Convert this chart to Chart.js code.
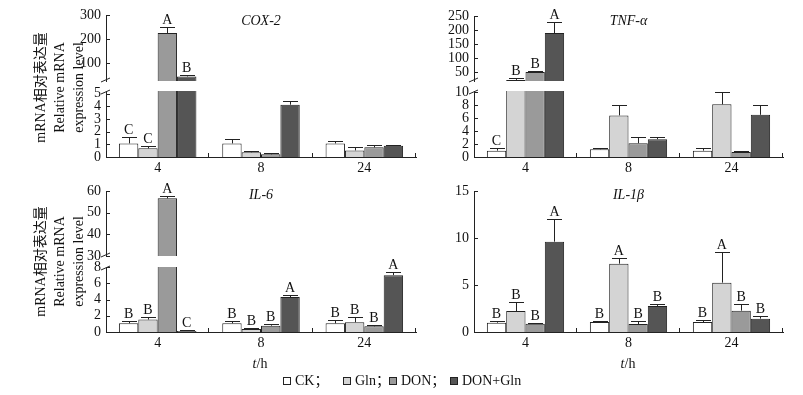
<!DOCTYPE html>
<html>
<head>
<meta charset="utf-8">
<script src="https://cdn.jsdelivr.net/npm/chart.js@4.4.1/dist/chart.umd.min.js"></script>
<style>
body { margin: 0; background: #fff; }
#wrap { position: relative; width: 803px; height: 395px; font-family: "Liberation Serif", "Noto Sans CJK SC", serif; color: #111; }
#wrap canvas { position: absolute; left: 0; top: 0; }
.ytitle { position: absolute; width: 140px; height: 57px; text-align: center; font-size: 14px; line-height: 19px; transform: rotate(-90deg); white-space: nowrap; }
.xtitle { position: absolute; font-size: 14px; line-height: 16px; transform: translateX(-50%); }
.leg { position: absolute; top: 373px; height: 16px; font-size: 14px; line-height: 16px; white-space: nowrap; display: flex; align-items: center; }
.leg i { display: block; width: 6px; height: 6px; border: 1px solid #222; margin-right: 4px; flex: none; }
</style>
</head>
<body>
<div id="wrap">
  <canvas id="coxUp" width="803" height="395"></canvas>
  <canvas id="coxLo" width="803" height="395"></canvas>
  <canvas id="tnfUp" width="803" height="395"></canvas>
  <canvas id="tnfLo" width="803" height="395"></canvas>
  <canvas id="il6Up" width="803" height="395"></canvas>
  <canvas id="il6Lo" width="803" height="395"></canvas>
  <canvas id="il1" width="803" height="395"></canvas>

  <div class="ytitle" style="left:-11px;top:59px;">mRNA相对表达量<br>Relative mRNA<br>expression level</div>
  <div class="ytitle" style="left:-11px;top:233px;">mRNA相对表达量<br>Relative mRNA<br>expression level</div>
  <div class="xtitle" style="left:260px;top:356px;"><i>t</i>/h</div>
  <div class="xtitle" style="left:628px;top:356px;"><i>t</i>/h</div>
  <div class="leg" style="left:283px;"><i style="background:#ffffff"></i><span>CK；</span></div>
  <div class="leg" style="left:343px;"><i style="background:#d4d4d4"></i><span>Gln；</span></div>
  <div class="leg" style="left:389px;"><i style="background:#9a9a9a"></i><span>DON；</span></div>
  <div class="leg" style="left:450px;"><i style="background:#555555"></i><span>DON+Gln</span></div>
</div>

<script>
// sampling times (h) and treatment groups
const times = ["4", "8", "24"];
const groupNames = ["CK", "Gln", "DON", "DON+Gln"];
const fills = ["#ffffff", "#d4d4d4", "#9a9a9a", "#555555"];

// COX-2
const coxCK = [1.07, 1.07, 1.07];
const coxGln = [0.68, 0.37, 0.52];
const coxDON = [225, 0.21, 0.76];
const coxDonGln = [44, 4.12, 0.88];
const coxCKErr = [0.47, 0.31, 0.23];
const coxGlnErr = [0.18, 0.12, 0.24];
const coxDONErr = [25, 0.08, 0.2];
const coxDonGlnErr = [4, 0.26, 0.04];
const coxLetters = [["C", "", ""], ["C", "", ""], ["A", "", ""], ["B", "", ""]];

// TNF-alpha
const tnfCK = [0.98, 1.19, 0.98];
const tnfGln = [22, 6.4, 8.1];
const tnfDON = [50, 2.12, 0.77];
const tnfDonGln = [189, 2.74, 6.49];
const tnfCKErr = [0.46, 0.16, 0.36];
const tnfGlnErr = [8, 1.54, 1.9];
const tnfDONErr = [4.5, 0.88, 0.11];
const tnfDonGlnErr = [38, 0.35, 1.45];
const tnfLetters = [["C", "", ""], ["B", "", ""], ["B", "", ""], ["A", "", ""]];

// IL-6
const il6CK = [1.07, 1.07, 1.07];
const il6Gln = [1.53, 0.37, 1.2];
const il6DON = [56.6, 0.78, 0.7];
const il6DonGln = [0.12, 4.3, 7.0];
const il6CKErr = [0.25, 0.33, 0.41];
const il6GlnErr = [0.28, 0.17, 0.66];
const il6DONErr = [0.9, 0.21, 0.12];
const il6DonGlnErr = [0.13, 0.3, 0.4];
const il6Letters = [["B", "B", "B"], ["B", "B", "B"], ["A", "B", "B"], ["C", "A", "A"]];

// IL-1beta
const il1CK = [0.99, 1.06, 1.06];
const il1Gln = [2.23, 7.27, 5.25];
const il1DON = [0.89, 0.85, 2.27];
const il1DonGln = [9.61, 2.77, 1.42];
const il1CKErr = [0.18, 0.14, 0.25];
const il1GlnErr = [0.96, 0.57, 3.3];
const il1DONErr = [0.1, 0.35, 0.74];
const il1DonGlnErr = [2.41, 0.24, 0.25];
const il1Letters = [["B", "B", "B"], ["B", "A", "A"], ["B", "B", "B"], ["A", "B", "B"]];

// y tick labels of each axis segment
const coxUpTicks = [100, 200, 300];
const coxLoTicks = [0, 1, 2, 3, 4, 5];
const tnfUpTicks = [50, 100, 150, 200, 250];
const tnfLoTicks = [0, 2, 4, 6, 8, 10];
const il6UpTicks = [30, 40, 50, 60];
const il6LoTicks = [0, 2, 4, 6, 8];
const il1Ticks = [0, 5, 10, 15];

const serif = "Liberation Serif";

// error bars, letters, inward ticks, axis break marks, gene name
const panelDeco = {
  id: "panelDeco",
  afterDatasetsDraw(chart) {
    const ctx = chart.ctx, y = chart.scales.y;
    ctx.save();
    ctx.strokeStyle = "#222";
    ctx.lineWidth = 1;
    ctx.fillStyle = "#111";
    ctx.font = "14px '" + serif + "'";
    ctx.textAlign = "center";
    ctx.textBaseline = "alphabetic";
    chart.data.datasets.forEach((ds, i) => {
      chart.getDatasetMeta(i).data.forEach((bar, j) => {
        const v = ds.data[j];
        if (v == null || v > y.max) return;
        const yb = y.getPixelForValue(v);
        const ye = Math.round(y.getPixelForValue(v + ds.err[j])) + 0.5;
        const bx = Math.round(bar.x) + 0.5;
        ctx.beginPath();
        ctx.moveTo(bx, yb);
        ctx.lineTo(bx, ye);
        ctx.moveTo(bx - 7.5, ye);
        ctx.lineTo(bx + 7.5, ye);
        ctx.stroke();
        if (ds.letters[j]) ctx.fillText(ds.letters[j], bar.x, ye - 4);
      });
    });
    ctx.restore();
  },
  afterDraw(chart, args, o) {
    const ctx = chart.ctx, y = chart.scales.y, a = chart.chartArea;
    ctx.save();
    ctx.strokeStyle = "#222";
    ctx.lineWidth = 1;
    ctx.beginPath();
    y.ticks.forEach(t => {
      const py = Math.round(y.getPixelForValue(t.value)) + 0.5;
      ctx.moveTo(a.left, py);
      ctx.lineTo(a.left + 4, py);
    });
    if (o.showX) {
      const w = (a.right - a.left) / times.length;
      for (let i = 1; i <= times.length; i++) {
        const px = Math.round(a.left + w * i) - 0.5;
        ctx.moveTo(px, a.bottom);
        ctx.lineTo(px, a.bottom - 4);
      }
    }
    if (o.breakTop) {
      ctx.moveTo(a.left - 5, a.top + 3);
      ctx.lineTo(a.left + 4, a.top - 1);
    }
    if (o.breakBottom) {
      ctx.moveTo(a.left - 5, a.bottom + 1);
      ctx.lineTo(a.left + 4, a.bottom - 3);
    }
    ctx.stroke();
    if (o.title) {
      ctx.fillStyle = "#111";
      ctx.font = "italic 14px '" + serif + "'";
      ctx.textAlign = "center";
      ctx.textBaseline = "middle";
      ctx.fillText(o.title, (a.left + a.right) / 2, a.top + o.titleDy);
    }
    ctx.restore();
  }
};

function makeSets(vals, errs, letters, keep) {
  return groupNames.map((name, i) => ({
    label: name,
    data: vals[i].map(keep),
    err: errs[i],
    letters: letters[i],
    backgroundColor: fills[i],
    borderColor: "#222",
    borderWidth: 1,
    clip: 0,
    categoryPercentage: 0.75,
    barPercentage: 1
  }));
}

function panel(id, g, datasets) {
  const xScale = {
    type: "category",
    display: g.showX,
    offset: true,
    grid: { display: false, drawTicks: false },
    border: { color: "#222" },
    ticks: { color: "#111", font: { family: serif, size: 14 }, padding: 3, maxRotation: 0, autoSkip: false }
  };
  if (g.showX) xScale.afterFit = s => { s.height = 30; };
  return new Chart(document.getElementById(id), {
    type: "bar",
    data: { labels: times, datasets: datasets },
    plugins: [panelDeco],
    options: {
      responsive: false,
      animation: false,
      events: [],
      layout: {
        padding: {
          left: g.left - 40,
          right: 803 - g.right,
          top: g.top,
          bottom: g.showX ? 395 - g.bottom - 30 : 395 - g.bottom
        }
      },
      scales: {
        x: xScale,
        y: {
          min: g.min,
          max: g.max,
          afterBuildTicks: s => { s.ticks = g.ticks.map(v => ({ value: v })); },
          afterFit: s => { s.width = 40; },
          grid: { display: false, drawTicks: false },
          border: { color: "#222" },
          ticks: { color: "#111", font: { family: serif, size: 14 }, padding: 5, autoSkip: false }
        }
      },
      plugins: {
        legend: { display: false },
        tooltip: { enabled: false },
        panelDeco: {
          showX: g.showX, breakTop: g.breakTop, breakBottom: g.breakBottom,
          title: g.title, titleDy: g.titleDy
        }
      }
    }
  });
}

const coxVals = [coxCK, coxGln, coxDON, coxDonGln];
const coxErrs = [coxCKErr, coxGlnErr, coxDONErr, coxDonGlnErr];
const tnfVals = [tnfCK, tnfGln, tnfDON, tnfDonGln];
const tnfErrs = [tnfCKErr, tnfGlnErr, tnfDONErr, tnfDonGlnErr];
const il6Vals = [il6CK, il6Gln, il6DON, il6DonGln];
const il6Errs = [il6CKErr, il6GlnErr, il6DONErr, il6DonGlnErr];
const il1Vals = [il1CK, il1Gln, il1DON, il1DonGln];
const il1Errs = [il1CKErr, il1GlnErr, il1DONErr, il1DonGlnErr];

const above = lim => v => (v > lim ? v : null);
const all = v => v;

panel("coxUp", { left: 106, right: 416, top: 15, bottom: 81, min: 25, max: 300, ticks: coxUpTicks,
  showX: false, breakBottom: true, title: "COX-2", titleDy: 6 },
  makeSets(coxVals, coxErrs, coxLetters, above(25)));
panel("coxLo", { left: 106, right: 416, top: 91, bottom: 157, min: 0, max: 5.2, ticks: coxLoTicks,
  showX: true, breakTop: true },
  makeSets(coxVals, coxErrs, coxLetters, all));

panel("tnfUp", { left: 474, right: 783, top: 16, bottom: 81, min: 18, max: 250, ticks: tnfUpTicks,
  showX: false, breakBottom: true, title: "TNF-α", titleDy: 5 },
  makeSets(tnfVals, tnfErrs, tnfLetters, above(18)));
panel("tnfLo", { left: 474, right: 783, top: 91, bottom: 157, min: 0, max: 10.15, ticks: tnfLoTicks,
  showX: true, breakTop: true },
  makeSets(tnfVals, tnfErrs, tnfLetters, all));

panel("il6Up", { left: 106, right: 416, top: 191, bottom: 256, min: 30, max: 60, ticks: il6UpTicks,
  showX: false, breakBottom: true, title: "IL-6", titleDy: 4 },
  makeSets(il6Vals, il6Errs, il6Letters, above(30)));
panel("il6Lo", { left: 106, right: 416, top: 267, bottom: 332, min: 0, max: 8, ticks: il6LoTicks,
  showX: true, breakTop: true },
  makeSets(il6Vals, il6Errs, il6Letters, all));

panel("il1", { left: 474, right: 783, top: 191, bottom: 332, min: 0, max: 15, ticks: il1Ticks,
  showX: true, title: "IL-1β", titleDy: 4 },
  makeSets(il1Vals, il1Errs, il1Letters, all));
</script>
</body>
</html>
